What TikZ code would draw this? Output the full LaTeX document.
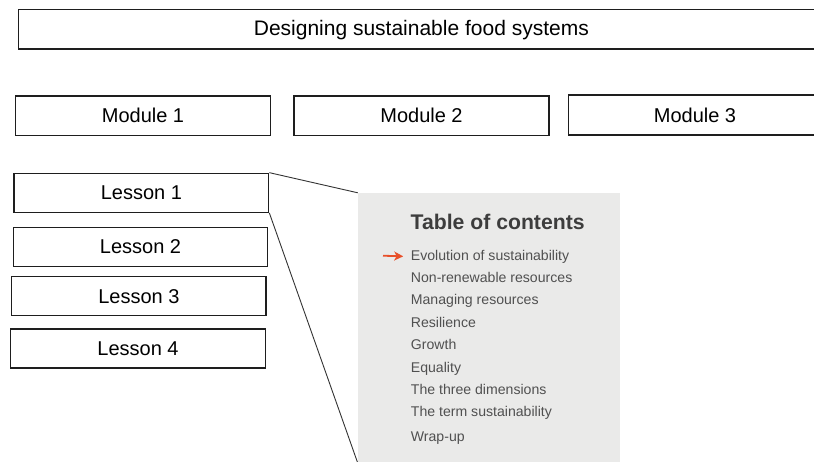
\documentclass[tikz,border=0pt]{standalone}
\usepackage{fontspec}
\setmainfont{Liberation Sans}
\usetikzlibrary{arrows.meta}
\definecolor{boxline}{HTML}{1E1E1E}
\definecolor{panelgray}{HTML}{EAEAE9}
\definecolor{tocdark}{HTML}{3D3D3D}
\definecolor{tocgray}{HTML}{505050}
\definecolor{tocarrow}{HTML}{E8502A}
\definecolor{linkgray}{HTML}{333333}
\begin{document}
\begin{tikzpicture}[x=1pt,y=-1pt,
  box/.style={draw=boxline, line width=1.3pt, rectangle, inner sep=0pt,
    font=\fontsize{20}{24}\selectfont, text height=14.3pt, text depth=0pt},
  tocline/.style={anchor=base west, inner sep=0pt, text=tocgray,
    font=\fontsize{14.1}{17}\selectfont},
  link/.style={draw=linkgray, line width=0.9pt}]
\useasboundingbox (0,0) rectangle (814,461);
\clip (0,0) rectangle (814,461);

% top title box (runs past right edge)
\node[box, minimum width=805.3pt, minimum height=39.7pt, font=\fontsize{21}{25}\selectfont,
  text height=13pt]
  (title) at (421.35,29.2) {Designing sustainable food systems};

% modules
\node[box, minimum width=255pt, minimum height=39.5pt] (m1) at (143,115.8) {Module 1};
\node[box, minimum width=255pt, minimum height=39.5pt] (m2) at (421.5,115.8) {Module 2};
\node[box, minimum width=253pt, minimum height=40pt] (m3) at (695,115) {Module 3};

% lessons
\node[box, minimum width=254.7pt, minimum height=39pt] (L1) at (141.35,192.8) {Lesson 1};
\node[box, minimum width=254.4pt, minimum height=39pt] (L2) at (140.5,246.8) {Lesson 2};
\node[box, minimum width=254.3pt, minimum height=39pt] (L3) at (138.85,296.2) {Lesson 3};
\node[box, minimum width=254.6pt, minimum height=39pt] (L4) at (138,348.5) {Lesson 4};

% table of contents panel
\node[rectangle, fill=panelgray, inner sep=0pt, minimum width=262pt, minimum height=270pt]
  (panel) at (489,328) {};

\draw[link] (L1.north east) -- (panel.north west);
\draw[link] (L1.south east) -- (panel.south west);

\node[anchor=base west, inner sep=0pt, text=tocdark, font=\bfseries\fontsize{21.2}{25}\selectfont]
  (toctitle) at (410.5,229.3) {Table of contents};
\node[tocline] (evo)  at (410.7,260)   {Evolution of sustainability};
\node[tocline] (nonr) at (410.7,282.4) {Non-renewable resources};
\node[tocline] (mana) at (410.7,304.8) {Managing resources};
\node[tocline] (resi) at (410.7,327.2) {Resilience};
\node[tocline] (grow) at (410.7,349.6) {Growth};
\node[tocline] (equa) at (410.7,372)   {Equality};
\node[tocline] (thre) at (410.7,394.4) {The three dimensions};
\node[tocline] (term) at (410.7,416.8) {The term sustainability};
\node[tocline] (wrap) at (410.7,441.5) {Wrap-up};

\coordinate (arrstart) at (383,255.7);
\draw[-{Stealth[length=9pt,width=9pt,inset=2.5pt]}, draw=tocarrow, fill=tocarrow, line width=1.8pt]
  (arrstart) -- ([xshift=-7.5pt]evo.west);
\end{tikzpicture}
\end{document}
